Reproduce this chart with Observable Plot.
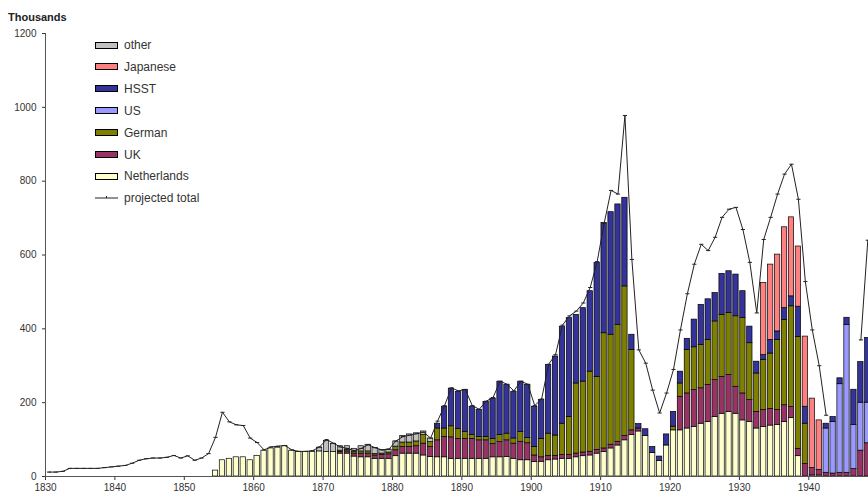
<!DOCTYPE html>
<html><head><meta charset="utf-8">
<script src="https://cdn.jsdelivr.net/npm/d3@7"></script>
<script src="https://cdn.jsdelivr.net/npm/@observablehq/plot@0.6"></script>
<style>
body{margin:0;background:#fff;font-family:"Liberation Sans",Arial,sans-serif;}
#wrap{position:relative;width:868px;height:499px;overflow:hidden;}
#unit{position:absolute;left:8px;top:11px;font-size:11px;font-weight:bold;color:#222;}
#legend{position:absolute;left:0;top:0;font-size:12px;color:#333;}
.row{position:absolute;left:95px;height:14px;display:flex;align-items:center;white-space:nowrap;}
.sw{width:21px;height:5px;border:1px solid #000;margin-right:6px;}
#chart{position:absolute;left:0;top:0;}
</style></head><body>
<div id="wrap"><div id="chart"></div><div id="unit">Thousands</div><div id="legend"></div></div>
<script>
// ---- data (thousands) ----
const xTicks = [1830,1840,1850,1860,1870,1880,1890,1900,1910,1920,1930,1940];
const yTicks = [0,200,400,600,800,1000,1200];

const netherlandsStart = 1854;
const netherlands = [16,44,48,52,52,44,56,70,76,78,
 82,70,66,66,66,68,66,66,62,62,
 54,52,52,48,48,48,55,62,62,62,
 57,53,52,52,48,48,48,48,48,48,
 52,52,53,48,44,44,39,40,44,46,
 48,48,52,55,57,62,66,76,84,98,
 112,122,110,64,42,84,125,125,130,134,
 143,148,161,170,175,170,152,148,130,134,
 138,140,148,158,55,0,3,3];

const ukStart = 1872;
const uk = [4,6,
 8,10,10,9,10,12,16,18,18,20,
 32,27,46,55,58,54,54,54,50,50,
 36,41,45,41,50,46,18,12,12,10,
 10,10,10,10,10,10,10,10,10,12,
 13,8,0,0,0,0,0,91,95,100,
 96,100,100,100,100,73,73,59,45,46,
 45,40,45,30,20,34,20,15,10,8,
 10,10,20,70,90];

const germanStart = 1872;
const german = [4,4,
 5,6,6,4,4,5,10,12,12,13,
 23,13,32,23,30,27,19,10,9,9,
 14,19,18,14,27,14,23,50,60,55,
 85,103,190,192,217,198,312,298,317,405,
 218,0,0,0,0,0,10,36,118,116,
 117,122,159,168,168,191,204,154,104,136,
 150,190,231,273,303,109];

const usStart = 1942;
const us = [120,140,240,400,120,130,110];

const hsstStart = 1886;
const hsst = [13,59,102,100,113,77,73,95,
 109,145,132,126,136,144,109,105,186,214,
 263,268,186,199,218,309,299,332,326,240,
 41,12,18,16,12,30,40,32,30,75,
 109,110,77,111,113,113,73,45,32,13,
 37,23,32,27,82,46,0,0,13,13,
 16,20,95,110,175];

const japaneseStart = 1933;
const japanese = [195,204,208,219,214,163,190,188,134];

const otherStart = 1869;
const other = [10,30,22,12,10,8,14,18,16,10,8,14,18,22,22,10,10];

const totalStart = 1830;
const projectedTotal = [12,12,14,22,22,22,22,22,24,26,
 28,30,36,44,48,50,50,52,57,50,
 56,44,50,62,106,174,148,140,138,104,
 92,72,80,82,84,72,68,68,70,80,
 100,90,80,76,70,76,86,78,72,74,
 96,108,112,116,120,104,150,192,240,232,
 236,192,182,204,214,258,250,232,258,250,
 192,210,304,330,410,435,448,470,512,582,
 685,775,765,978,588,343,307,234,172,226,
 290,397,495,575,629,612,648,702,724,729,
 669,580,443,642,702,765,819,846,751,528,
 397,300,166,null,null,null,null,370,640];

const seriesNames  = ["Netherlands","UK","German","US","HSST","Japanese","other"];
const seriesColors = ["#FFFFCC","#993366","#808000","#9999FF","#333399","#FF8080","#C0C0C0"];
const legendOrder  = ["other","Japanese","HSST","US","German","UK","Netherlands"];

// ---- build tables ----
const seriesData = [
  {name:"Netherlands", start:netherlandsStart, values:netherlands},
  {name:"UK", start:ukStart, values:uk},
  {name:"German", start:germanStart, values:german},
  {name:"US", start:usStart, values:us},
  {name:"HSST", start:hsstStart, values:hsst},
  {name:"Japanese", start:japaneseStart, values:japanese},
  {name:"other", start:otherStart, values:other}
];
const rows = [];
for (const s of seriesData) s.values.forEach((v,i)=>{ if (v>0) rows.push({year:s.start+i, series:s.name, value:v}); });
const totalRows = projectedTotal.map((v,i)=>({year: totalStart+i, value: v}));

const dash = {draw(ctx, size){ const r = Math.sqrt(size/Math.PI)*1.3; ctx.moveTo(-r,0); ctx.lineTo(r,0); }};

const chart = Plot.plot({
  width:868, height:499, marginLeft:45, marginRight:0, marginTop:33, marginBottom:23,
  style:{fontFamily:"Liberation Sans, Arial, sans-serif", fontSize:"10px", color:"#333", background:"transparent", overflow:"visible"},
  x:{domain:[1830,1948.6], ticks:xTicks, tickFormat:d=>String(d), tickSize:4, tickPadding:3, label:null},
  y:{domain:[0,1200], ticks:yTicks, tickFormat:d=>String(d), tickSize:3, tickPadding:6, label:null},
  color:{domain:seriesNames, range:seriesColors},
  marks:[
    Plot.rect(rows, Plot.stackY({x1:"year", x2:d=>d.year+1, y:"value", fill:"series", order:seriesNames,
      stroke:"#000", strokeWidth:0.7, insetLeft:0.8, insetRight:0.8, clip:true})),
    Plot.line(totalRows, {x:d=>d.year+0.5, y:"value", stroke:"#222", strokeWidth:1, clip:true}),
    Plot.dot(totalRows.filter(d=>d.value!=null), {x:d=>d.year+0.5, y:"value", symbol:dash, r:1.6, stroke:"#222", strokeWidth:1, clip:true}),
    Plot.ruleX([1830], {stroke:"#555"}),
    Plot.ruleY([0], {stroke:"#555"})
  ]
});
document.getElementById("chart").appendChild(chart);

// ---- legend ----
const leg = document.getElementById("legend");
legendOrder.forEach((name,i)=>{
  const row = document.createElement("div");
  row.className = "row";
  row.style.top = (38 + i*21.9) + "px";
  const sw = document.createElement("div");
  sw.className = "sw";
  sw.style.background = seriesColors[seriesNames.indexOf(name)];
  row.appendChild(sw);
  row.appendChild(document.createTextNode(name));
  leg.appendChild(row);
});
const lr = document.createElement("div");
lr.className = "row";
lr.style.top = (38 + 7*21.9) + "px";
lr.innerHTML = '<svg width="23" height="8" style="margin-right:6px"><line x1="0" y1="4" x2="23" y2="4" stroke="#222"/><line x1="11.5" y1="2" x2="11.5" y2="4" stroke="#222"/></svg>projected total';
leg.appendChild(lr);
</script></body></html>
